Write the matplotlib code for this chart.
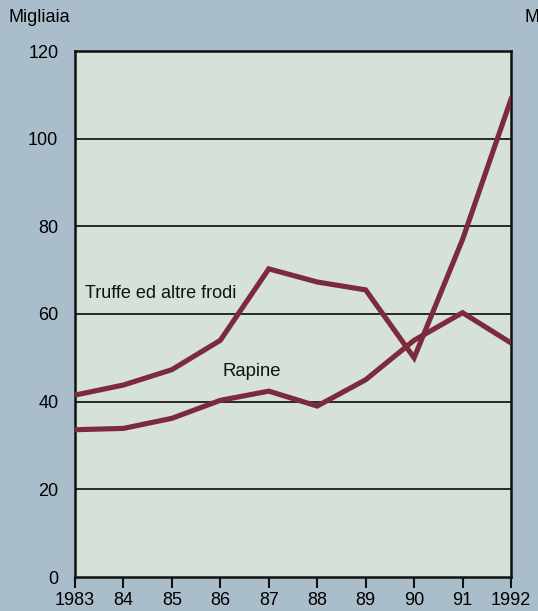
import matplotlib
matplotlib.use("Agg")
import matplotlib.pyplot as plt

years = [1983, 1984, 1985, 1986, 1987, 1988, 1989, 1990, 1991, 1992]
year_labels = ["1983", "84", "85", "86", "87", "88", "89", "90", "91", "1992"]
truffe = [41.5, 43.8, 47.3, 54.0, 70.3, 67.3, 65.5, 50.0, 77.0, 109.0]
rapine = [33.6, 33.9, 36.2, 40.3, 42.4, 39.0, 45.0, 54.0, 60.3, 53.4]
yticks = [0, 20, 40, 60, 80, 100, 120]

plt.rcParams['font.family'] = ['Liberation Sans', 'DejaVu Sans']

outer = '#aabdcb'
inner = '#d6e1d8'
line_c = '#7b2b3d'

fig = plt.figure(figsize=(5.38, 6.11), dpi=100, facecolor=outer)
ax = fig.add_axes([75/538, 1-577/611, (511-75)/538, (577-51)/611])
ax.set_facecolor(inner)

ax.set_xlim(1983, 1992)
ax.set_ylim(0, 120)
for y in yticks[1:-1]:
    ax.axhline(y, color='#1a1a1a', lw=1.3, zorder=1)

ax.plot(years, truffe, color=line_c, lw=3.7, solid_joinstyle='miter', zorder=3)
ax.plot(years, rapine, color=line_c, lw=3.7, solid_joinstyle='miter', zorder=3)

ax.text(1983.2, 64.6, "Truffe ed altre frodi", fontsize=13, va='center', ha='left', color='#111111')
ax.text(1986.05, 46.9, "Rapine", fontsize=13.3, va='center', ha='left', color='#111111')

ax.set_xticks(years)
ax.set_xticklabels(year_labels, fontsize=13)
ax.set_yticks(yticks)
ax.set_yticklabels([str(v) for v in yticks], fontsize=13)
ax.tick_params(axis='x', direction='out', length=8, width=1.5, pad=3, color='#111111')
ax.tick_params(axis='y', length=0, pad=12)
for s in ax.spines.values():
    s.set_linewidth(1.8)
    s.set_color('#111111')

fig.text(8/538, 1-18/611, "Migliaia", fontsize=13, va='center', ha='left')
fig.text(524/538, 1-18/611, "M", fontsize=13, va='center', ha='left')

fig.savefig("out.png", dpi=100, facecolor=outer)
